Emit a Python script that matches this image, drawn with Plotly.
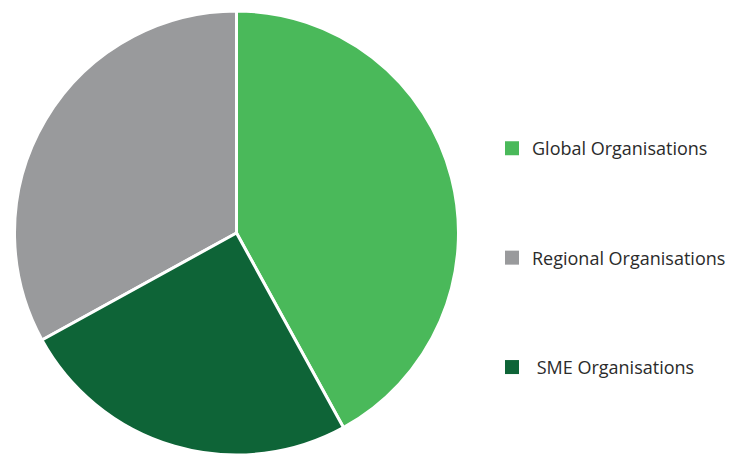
import plotly.graph_objects as go

labels = ["Global Organisations", "Regional Organisations", "\u00a0SME Organisations"]
values = [42, 33, 25]
colors = ["#4ab95a", "#999a9c", "#0e6437"]

fig = go.Figure()
fig.add_trace(go.Pie(
    labels=labels, values=values, sort=False, direction="counterclockwise",
    marker=dict(colors=colors, line=dict(color="white", width=3)),
    textinfo="none", hoverinfo="label+percent", showlegend=False,
    domain=dict(x=[0, 473 / 732], y=[0, 1]),
))
for i, (lab, col) in enumerate(zip(labels, colors)):
    fig.add_trace(go.Scatter(
        x=[None], y=[None], mode="markers", name=lab, legendgroup=f"g{i}",
        marker=dict(symbol="square", size=14, color=col),
    ))

fig.update_layout(
    width=732, height=455,
    margin=dict(l=0, r=0, t=11, b=0),
    paper_bgcolor="white", plot_bgcolor="white",
    xaxis=dict(visible=False), yaxis=dict(visible=False),
    font=dict(family="Open Sans", size=18, color="#2b2b2b"),
    legend=dict(x=492 / 732, xanchor="left", y=(455 - 122) / 455, yanchor="top",
                tracegroupgap=83, bgcolor="rgba(0,0,0,0)"),
)
fig.write_html("out.html")
